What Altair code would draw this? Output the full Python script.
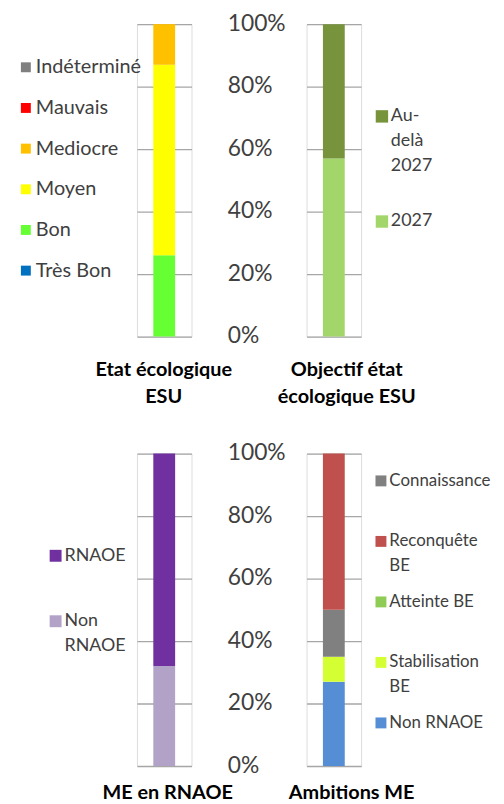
import json
import altair as alt
import pandas as pd

# ---------------- data ----------------
# Panel 1 : Etat écologique ESU (stack order bottom -> top)
p1_cat = "Etat écologique ESU"
p1_series = ["Très Bon", "Bon", "Moyen", "Mediocre", "Mauvais", "Indéterminé"]
p1_values = [0, 26, 61, 13, 0, 0]
p1_colors = ["#0070C0", "#66FF33", "#FFFF00", "#FFC000", "#FF0000", "#7F7F7F"]
p1_legend = ["Indéterminé", "Mauvais", "Mediocre", "Moyen", "Bon", "Très Bon"]

# Panel 2 : Objectif état écologique ESU
p2_cat = "Objectif état écologique ESU"
p2_series = ["2027", "Au-delà 2027"]
p2_values = [57, 43]
p2_colors = ["#A2D66B", "#77933C"]
p2_legend = ["Au-delà 2027", "2027"]

# Panel 3 : ME en RNAOE
p3_cat = "ME en RNAOE"
p3_series = ["Non RNAOE", "RNAOE"]
p3_values = [32, 68]
p3_colors = ["#B3A2C7", "#7030A0"]
p3_legend = ["RNAOE", "Non RNAOE"]

# Panel 4 : Ambitions ME
p4_cat = "Ambitions ME"
p4_series = ["Non RNAOE", "Stabilisation BE", "Atteinte BE", "Connaissance", "Reconquête BE"]
p4_values = [27, 8, 0, 15, 50]
p4_colors = ["#558ED5", "#D4FF33", "#8FCC55", "#808080", "#C0504D"]
p4_legend = ["Connaissance", "Reconquête BE", "Atteinte BE", "Stabilisation BE", "Non RNAOE"]

y_ticks = [0, 20, 40, 60, 80, 100]

# wrapped texts
cat_lines = {
    "Etat écologique ESU": ["Etat écologique", "ESU"],
    "Objectif état écologique ESU": ["Objectif état", "écologique ESU"],
}
legend_lines = {
    "Au-delà 2027": ["Au-", "delà", "2027"],
    "Non RNAOE": ["Non", "RNAOE"],
    "Reconquête BE": ["Reconquête", "BE"],
    "Stabilisation BE": ["Stabilisation", "BE"],
}


def wrap_expr(mapping, keys=None):
    expr = "datum.label"
    for k, v in mapping.items():
        if keys is not None and k not in keys:
            continue
        expr = (f"datum.label == {json.dumps(k, ensure_ascii=False)} ? "
                f"{json.dumps(v, ensure_ascii=False)} : ({expr})")
    return expr


FONT = "Lato"


def panel(cat, series, values, colors, legend_order, *, show_y, x_pad, x_off,
          leg_x, leg_y, leg_size, leg_font, leg_row, leg_off, leg_keys,
          leg_align="each"):
    df = pd.DataFrame({
        "cat": [cat] * len(series),
        "series": series,
        "value": values,
        "stack": list(range(len(series))),
    })
    cmap = dict(zip(series, colors))
    if show_y:
        yaxis = alt.Axis(values=y_ticks, title=None, domain=False, ticks=False,
                         tickSize=0, grid=True, gridColor="#A6A6A6", gridWidth=1.4,
                         labelExpr="datum.value + '%'", labelAlign="left",
                         labelPadding=80, labelFont=FONT, labelFontSize=23,
                         labelColor="#404040", labelOffset=-1, labelOverlap=False,
                         labelFlush=False)
    else:
        yaxis = alt.Axis(values=y_ticks, title=None, domain=False, ticks=False,
                         labels=False, grid=True, gridColor="#A6A6A6", gridWidth=1.4)
    return alt.Chart(df).mark_bar(size=22).encode(
        x=alt.X("cat:N", title=None,
                axis=alt.Axis(domain=False, ticks=False, labelAngle=0,
                              labelExpr=wrap_expr(cat_lines), labelFont=FONT,
                              labelFontWeight="bold", labelFontSize=20,
                              labelColor="#000000", labelBaseline="top",
                              labelLineHeight=27, labelPadding=x_pad,
                              labelOffset=x_off, labelLimit=0)),
        y=alt.Y("value:Q", stack="zero",
                scale=alt.Scale(domain=[0, 100], nice=False), axis=yaxis),
        color=alt.Color("series:N",
                        scale=alt.Scale(domain=legend_order,
                                        range=[cmap[s] for s in legend_order]),
                        legend=alt.Legend(orient="none", legendX=leg_x, legendY=leg_y,
                                          direction="vertical", title=None,
                                          symbolType="square", symbolSize=leg_size,
                                          symbolStrokeWidth=0, labelFont=FONT,
                                          labelFontSize=leg_font, labelColor="#404040",
                                          labelOffset=leg_off, rowPadding=leg_row,
                                          gridAlign=leg_align,
                                          labelLimit=0, labelBaseline="middle",
                                          labelExpr=wrap_expr(legend_lines, leg_keys))),
        order=alt.Order("stack:Q", sort="ascending"),
    ).properties(width=55, height=315)


c1 = panel(p1_cat, p1_series, p1_values, p1_colors, p1_legend, show_y=False,
           x_pad=23, x_off=-0.5, leg_x=-122, leg_y=33.5, leg_size=100, leg_font=20,
           leg_row=21, leg_off=0, leg_keys=[])
c2 = panel(p2_cat, p2_series, p2_values, p2_colors, p2_legend, show_y=True,
           x_pad=23, x_off=13, leg_x=67, leg_y=84, leg_size=156, leg_font=18,
           leg_row=38, leg_off=0, leg_keys=["Au-delà 2027"])
c3 = panel(p3_cat, p3_series, p3_values, p3_colors, p3_legend, show_y=False,
           x_pad=17, x_off=3.5, leg_x=-91, leg_y=94, leg_size=144, leg_font=18,
           leg_row=48, leg_off=0, leg_keys=["Non RNAOE"])
c4 = panel(p4_cat, p4_series, p4_values, p4_colors, p4_legend, show_y=True,
           x_pad=17, x_off=18, leg_x=66.5, leg_y=19, leg_size=121, leg_font=17,
           leg_row=18, leg_off=0, leg_keys=["Reconquête BE", "Stabilisation BE"],
           leg_align="all")

chart = alt.concat(
    c1, c2, c3, c4, columns=2,
    spacing={"row": 118, "column": 116}, bounds="flush",
).resolve_scale(color="independent", x="independent", y="independent").resolve_legend(
    color="independent"
).properties(
    padding={"left": 7, "top": 0, "right": 5, "bottom": 0},
    background="white",
).configure_view(stroke=None).configure(
    font=FONT, style={"guide-label": {"lineHeight": 25}}
)

chart.save("out.html", embed_options={"renderer": "svg", "actions": False})
